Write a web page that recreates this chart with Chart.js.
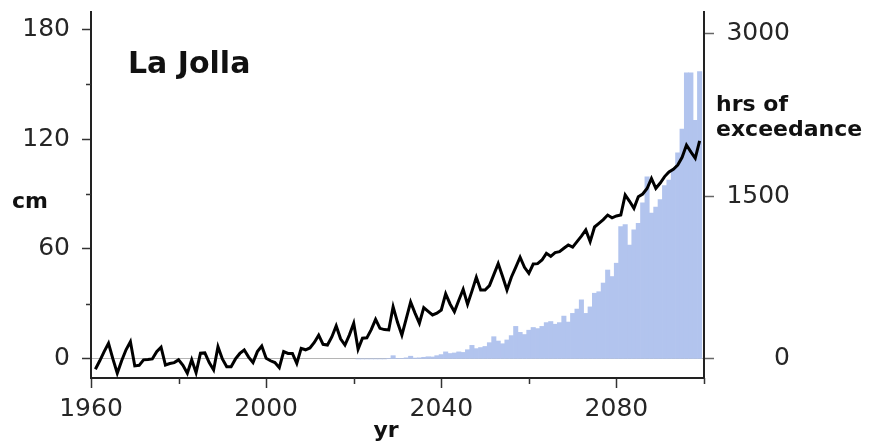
<!DOCTYPE html>
<html>
<head>
<meta charset="utf-8">
<script src="https://cdn.jsdelivr.net/npm/chart.js@4"></script>
<style>
  body { margin: 0; background: #fff; }
  canvas { display: block; }
</style>
</head>
<body>
<canvas id="chart" width="872" height="445"></canvas>
<script>
// sea level (cm), one value per year starting 1961
const FIRST_YEAR = 1961;
const seaLevelCm = [
  -5.6, -1, 4, 8.5, 0, -7.8, -1, 5, 9.4, -3.8,          // 1961-1970
  -3.5, -0.5, -0.3, 0, 4, 6.4, -3.3, -2.5, -2, -0.5,    // 1971-1980
  -3.5, -7.8, -0.5, -7.5, 3.1, 3.3, -2, -6, 6.7, 0,     // 1981-1990
  -4.2, -4.2, 0, 3, 4.9, 1, -2, 4, 7, 0.4,              // 1991-2000
  -1, -2, -4.8, 4, 3, 3, -2.4, 5.8, 5, 6,               // 2001-2010
  9, 13, 8, 7.6, 12, 18, 11, 7.6, 13, 19.5,             // 2011-2020
  5.3, 11.3, 11.5, 16, 21.6, 16.7, 16, 15.8, 28.5, 20,  // 2021-2030
  13, 22, 31, 25, 19.5, 28, 26, 24, 25, 26.7,           // 2031-2040
  35.5, 30, 25.8, 32, 38, 29.8, 37, 44.6, 37.6, 37.6,   // 2041-2050
  40, 46, 52, 45, 37.6, 44.6, 50, 55.5, 50, 46.7,       // 2051-2060
  51.8, 52, 54, 57.6, 56, 58, 58.5, 60.4, 62.2, 61,     // 2061-2070
  64, 67, 70.4, 64, 72, 74, 76, 78.5, 77, 78,           // 2071-2080
  78.5, 89.5, 86, 82.2, 88.5, 90, 93, 98.5, 93.1, 96,   // 2081-2090
  99.5, 102, 103.5, 105.8, 110, 116.7, 113, 109.5, 119  // 2091-2099
];

// hours of exceedance per year starting 2021
const HOURS_FIRST_YEAR = 2021;
const exceedanceHrs = [
  0, 0, 0, 0, 0, 0, 0, 5, 30, 5,                              // 2021-2030
  5, 10, 25, 8, 10, 15, 20, 18, 30, 40,                       // 2031-2040
  65, 50, 55, 65, 60, 85, 125, 95, 105, 115,                  // 2041-2050
  150, 205, 165, 140, 175, 215, 300, 245, 225, 265,           // 2051-2060
  290, 280, 300, 335, 345, 320, 335, 395, 340, 420,           // 2061-2070
  460, 545, 420, 480, 606, 620, 700, 820, 760, 883,           // 2071-2080
  1220, 1240, 1050, 1190, 1250, 1440, 1680, 1345, 1400, 1470, // 2081-2090
  1600, 1650, 1750, 1900, 2120, 2640, 2640, 2200, 2650        // 2091-2099
];

const xTicks = [1960, 2000, 2040, 2080];
const xMinorTicks = [1980, 2020, 2060, 2100];
const cmTicks = [0, 60, 120, 180];
const cmMinorTicks = [30, 90, 150];
const hrsTicks = [0, 1500, 3000];

const linePoints = seaLevelCm.map((v, i) => ({ x: FIRST_YEAR + i, y: v }));
const barPoints = exceedanceHrs.map((v, i) => ({ x: HOURS_FIRST_YEAR + i, y: v }));

const FONT = '"DejaVu Sans", sans-serif';
const tickFont = { family: FONT, size: 25 };

// axis titles and minor ticks
const annotations = {
  id: 'annotations',
  afterDraw(chart) {
    const { ctx, scales: { x, y } } = chart;
    ctx.save();
    ctx.strokeStyle = '#333';
    ctx.lineWidth = 1.5;
    ctx.beginPath();
    cmMinorTicks.forEach(v => {
      const py = Math.round(y.getPixelForValue(v)) + 0.5;
      ctx.moveTo(x.left - 5, py);
      ctx.lineTo(x.left, py);
    });
    xMinorTicks.forEach(v => {
      const px = Math.round(x.getPixelForValue(v)) + 0.5;
      ctx.moveTo(px, y.bottom);
      ctx.lineTo(px, y.bottom + 6);
    });
    ctx.stroke();

    ctx.fillStyle = '#111';
    ctx.textBaseline = 'alphabetic';
    ctx.textAlign = 'left';
    ctx.font = 'bold 30px ' + FONT;
    ctx.fillText('La Jolla', 128, 73);
    ctx.font = 'bold 22px ' + FONT;
    ctx.fillText('cm', 12, 208);
    ctx.fillText('hrs of', 716, 111);
    ctx.fillText('exceedance', 716, 136);
    ctx.textAlign = 'center';
    ctx.fillText('yr', 386, 437);
    ctx.restore();
  }
};

new Chart(document.getElementById('chart'), {
  data: {
    datasets: [
      {
        type: 'line',
        data: linePoints,
        yAxisID: 'y',
        borderColor: '#000',
        borderWidth: 3,
        pointRadius: 0,
        tension: 0,
        order: 0
      },
      {
        type: 'bar',
        data: barPoints,
        yAxisID: 'y2',
        backgroundColor: 'rgb(178, 196, 238)',
        borderWidth: 0,
        barPercentage: 1,
        categoryPercentage: 1,
        order: 1
      }
    ]
  },
  options: {
    responsive: false,
    animation: false,
    layout: { padding: { top: 12, left: 0, right: 82, bottom: 0 } },
    plugins: {
      legend: { display: false },
      tooltip: { enabled: false }
    },
    scales: {
      x: {
        type: 'linear',
        min: 1960,
        max: 2100,
        offset: false,
        afterBuildTicks: s => { s.ticks = xTicks.map(v => ({ value: v })); },
        afterFit: s => { s.height = 67; s.paddingLeft = 0; s.paddingRight = 0; },
        grid: { offset: false, drawOnChartArea: false, tickLength: 10, tickColor: '#333', tickWidth: 1.5 },
        border: { color: '#222', width: 2 },
        ticks: { font: tickFont, color: '#262626', padding: 6, maxRotation: 0, callback: v => String(v) }
      },
      y: {
        position: 'left',
        min: -10.4,
        max: 189.3,
        afterBuildTicks: s => { s.ticks = cmTicks.map(v => ({ value: v })); },
        afterFit: s => { s.width = 91; s.paddingTop = 0; s.paddingBottom = 0; },
        grid: {
          color: ctx => (ctx.tick && ctx.tick.value === 0 ? '#b5b5b5' : 'rgba(0,0,0,0)'),
          lineWidth: 1,
          tickLength: 9,
          tickColor: '#333',
          tickWidth: 1.5
        },
        border: { color: '#222', width: 2 },
        ticks: { font: tickFont, color: '#262626', padding: 12, callback: v => String(v) }
      },
      y2: {
        position: 'right',
        min: -176,
        max: 3200,
        afterBuildTicks: s => { s.ticks = hrsTicks.map(v => ({ value: v })); },
        afterFit: s => { s.width = 86; s.paddingTop = 0; s.paddingBottom = 0; },
        grid: { drawOnChartArea: false, tickLength: 10, tickColor: '#666', tickWidth: 1.5 },
        border: { color: '#222', width: 2 },
        ticks: { font: tickFont, color: '#262626', padding: 11, crossAlign: 'far', callback: v => String(v) }
      }
    }
  },
  plugins: [annotations]
});
</script>
</body>
</html>
